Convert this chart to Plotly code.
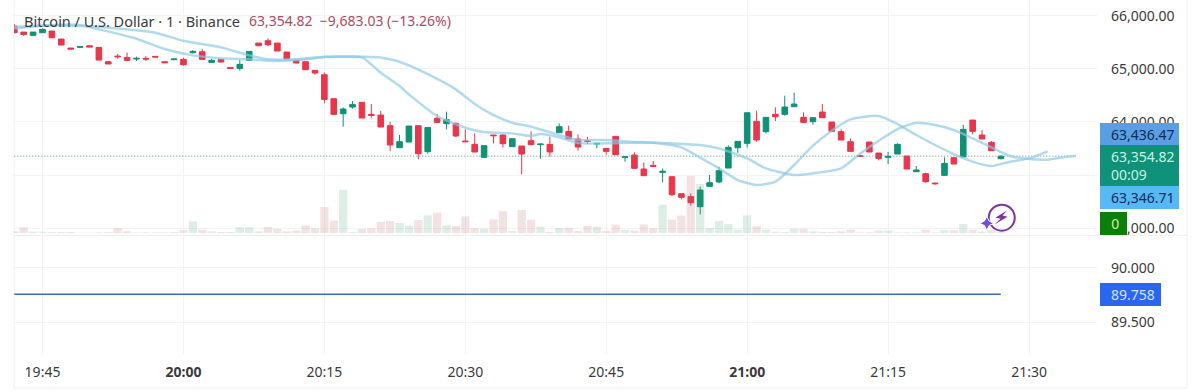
import pandas as pd
import plotly.graph_objects as go

opens = [65805,65692,65630,65680,65711,65561,65391,65404,65435,65404,65134,65240,65215,65184,65197,65234,65134,65171,65178,65303,
65322,65121,65178,65027,65008,65159,65485,65529,65485,65316,65159,65134,64971,64889,64437,64155,64280,64368,64142,64129,
63929,63514,63621,63929,63439,64067,63966,63973,63640,63577,63332,63753,63753,63533,63546,63646,63571,63577,63797,63822,
63678,63646,63583,63502,63728,63332,63376,63113,63182,63050,62968,62648,62592,62403,62786,62868,63131,63514,63596,64010,
63816,64142,64142,64286,64086,64004,64186,63998,63816,63627,63364,63621,63414,63332,63395,63357,63062,63025,62849,62993,
63326,63339,64035,63753,63615,63307]
highs = [65843,65692,65692,65761,65711,65561,65391,65416,65435,65404,65134,65278,65303,65228,65240,65234,65134,65184,65209,65353,
65372,65190,65178,65027,65165,65328,65485,65573,65485,65316,65159,65134,64971,64933,64437,64274,64393,64368,64337,64205,
64004,63753,63922,63929,63897,64148,64192,63991,63859,63784,63552,63753,63765,63684,63546,63822,63583,63721,63973,63929,
63765,63721,63596,63502,63728,63345,63426,63238,63263,63125,62968,62648,62654,62780,63000,63157,63558,63634,64173,64211,
64086,64274,64494,64550,64180,64079,64337,63998,63859,63690,63364,63621,63414,63433,63596,63357,63169,63044,62849,63332,
63326,63947,64035,63847,63640,63370]
lows = [65680,65617,65630,65680,65586,65448,65372,65404,65410,65165,65090,65190,65159,65146,65146,65222,65115,65171,65058,65291,
65178,65121,65127,65008,64964,65159,65435,65429,65335,65184,65109,64983,64889,64349,64142,63910,64249,64073,64079,63903,
63452,63514,63621,63295,63401,63991,63859,63715,63627,63433,63332,63596,63521,63533,63012,63571,63307,63345,63797,63678,
63458,63583,63502,63382,63382,63251,63125,62987,63163,62861,62604,62541,62422,62259,62786,62843,63131,63420,63514,63627,
63784,64016,64117,64286,63991,63947,64079,63822,63659,63445,63351,63433,63276,63207,63395,63113,63062,62855,62818,62993,
63207,63339,63765,63678,63458,63295]
closes = [65680,65648,65692,65743,65586,65448,65372,65416,65410,65165,65090,65228,65159,65197,65184,65222,65115,65184,65077,65328,
65178,65159,65127,65008,65084,65328,65435,65454,65335,65184,65109,64983,64920,64424,64142,64242,64330,64073,64123,63903,
63565,63627,63922,63401,63897,63991,64042,63734,63627,63433,63552,63740,63590,63684,63395,63571,63583,63433,63910,63678,
63527,63634,63596,63445,63382,63345,63125,62987,63163,63069,62629,62579,62479,62717,62855,63081,63521,63634,64173,63659,
64086,64098,64280,64337,63991,64079,64079,63822,63659,63445,63351,63433,63313,63351,63577,63113,63094,62874,62836,63219,
63207,63859,63822,63678,63458,63354.82]
volumes = [5,17,4,4,3,3,3,1,1,2,3,15,5,2,2,2,2,3,8,35,10,5,3,3,17,17,5,18,12,5,7,23,14,78,37,129,3,12,14,33,
36,30,22,39,53,61,23,21,50,15,13,41,66,6,69,40,19,3,15,16,6,21,19,6,25,9,7,26,14,85,40,52,171,147,16,36,27,10,53,20,
10,4,3,13,13,5,3,3,5,10,2,2,7,7,2,2,2,10,2,8,8,27,10,4,8,4]

ma_a_idx = [0,4,7,9,13,16,19,22,25,28,31,33,35,37,39,41,42,45,48,50,53,55,56,58,60,63,68,71,73,75,77,79,81,83,85,87,89,92,94,96,98,100,102,104,106,108,110]
ma_a = [65761,65824,65824,65743,65567,65372,65253,65197,65178,65146,65178,65222,65228,65215,64927,64676,64519,64111,63891,63809,63784,63734,63772,63709,63602,63596,63608,63521,63326,63125,62905,62811,62874,63188,63552,63834,64048,64111,63960,63753,63565,63395,63251,63169,63251,63313,63445]
ma_b_idx = [0,4,7,11,15,18,22,25,27,30,33,37,39,41,44,47,49,51,53,55,58,60,63,66,70,73,75,78,80,83,85,88,90,92,94,96,98,100,102,104,106,108,110,112,113]
ma_b = [65793,65818,65805,65761,65680,65529,65404,65253,65178,65178,65228,65228,65215,65134,64902,64613,64337,64129,63985,63910,63753,63659,63659,63621,63596,63565,63502,63313,63125,62999,63031,63125,63401,63646,63866,63985,63941,63847,63690,63521,63357,63301,63288,63345,63357]

ratio_value = 89.758
last_price = 63354.82
time_ticks = ["19:45", "20:00", "20:15", "20:30", "20:45", "21:00", "21:15", "21:30"]
price_ticks = [66000, 65000, 64000, 63000, 62000]
hidden_price_ticks = [63000]
lower_ticks = [90.0, 89.5]

DAY = "2024-06-18"
PX_L, PX_R, PX_B = 13.5, 1097.0, 354.0
W, H = 1200, 392
times = pd.date_range(f"{DAY} 19:42", periods=120, freq="1min")
t = times[:len(opens)]
RED, GREEN = "#e8364a", "#0f9174"
LINE = "rgba(140,200,232,0.68)"
FONT = "Noto Sans"
GRID = "#f3f3f4"

def px(x):
    return (x - PX_L) / (PX_R - PX_L)

def py(y):
    return 1 - y / PX_B

def path(points):
    return "M " + " L ".join(f"{px(x):.5f},{py(y):.5f}" for x, y in points) + " Z"

fig = go.Figure()
vol_colors = ["rgba(60,160,115,0.18)" if c >= o else "rgba(190,95,95,0.18)" for o, c in zip(opens, closes)]
fig.add_trace(go.Bar(x=t, y=volumes, marker_color=vol_colors, marker_line_width=0, yaxis="y3", xaxis="x", showlegend=False))
fig.add_trace(go.Scatter(x=[times[0], times[113]], y=[last_price, last_price], mode="lines",
                         line=dict(color="#4f9486", width=1, dash="1px,2px"), showlegend=False))
fig.add_trace(go.Candlestick(x=t, open=opens, high=highs, low=lows, close=closes,
                             increasing=dict(line=dict(color=GREEN, width=1), fillcolor=GREEN),
                             decreasing=dict(line=dict(color=RED, width=1), fillcolor=RED),
                             whiskerwidth=0, showlegend=False))
fig.add_trace(go.Scatter(x=times[ma_a_idx], y=ma_a, mode="lines", line=dict(color=LINE, width=2.5, shape="spline", smoothing=0.6), showlegend=False))
fig.add_trace(go.Scatter(x=times[ma_b_idx], y=ma_b, mode="lines", line=dict(color=LINE, width=2.5, shape="spline", smoothing=0.6), showlegend=False))
fig.add_trace(go.Scatter(x=[t[0], t[-1]], y=[ratio_value, ratio_value], mode="lines",
                         line=dict(color="#3f6db3", width=1.5), xaxis="x2", yaxis="y2", showlegend=False))

tickdates = [f"{DAY} {s}" for s in time_ticks]
ticktext = [f"<b>{s}</b>" if s in ("20:00", "21:00") else s for s in time_ticks]
xrange_ = [f"{DAY} 19:41:58", f"{DAY} 21:37:14"]
axfont = dict(family=FONT, size=14, color="#3a3a3a")

fig.update_layout(
    width=W, height=H, paper_bgcolor="white", plot_bgcolor="white",
    margin=dict(l=PX_L, r=W - PX_R, t=0, b=H - PX_B, autoexpand=False),
    boxgap=0.15, bargap=0.12, hovermode=False, showlegend=False,
    xaxis=dict(domain=[0, 1], range=xrange_, anchor="y", tickvals=tickdates, showticklabels=False,
               showgrid=True, gridcolor=GRID, gridwidth=1, zeroline=False, showline=False, rangeslider=dict(visible=False)),
    xaxis2=dict(domain=[0, 1], range=xrange_, anchor="y2", tickvals=tickdates, ticktext=ticktext, ticks="", ticklen=0,
                tickfont=axfont, ticklabelstandoff=8, showgrid=True, gridcolor=GRID, zeroline=False, showline=False, matches="x"),
    yaxis=dict(domain=[1 - 235 / PX_B, 1], range=[61870, 66296], side="right", anchor="x",
               tickvals=price_ticks, ticktext=["" if v in hidden_price_ticks else f"{v:,.2f}" for v in price_ticks],
               tickfont=axfont, ticks="", ticklabelstandoff=13,
               showgrid=True, gridcolor=GRID, zeroline=False, showline=False),
    yaxis3=dict(domain=[1 - 235 / PX_B, 1], range=[-6, 699], overlaying="y", anchor="x", visible=False),
    yaxis2=dict(domain=[0, 1 - 236 / PX_B], range=[89.204, 90.296], side="right", anchor="x2",
                tickvals=lower_ticks, ticktext=[f"{v:.3f}" for v in lower_ticks], tickfont=axfont, ticks="", ticklabelstandoff=13,
                showgrid=True, gridcolor=GRID, zeroline=False, showline=False),
)

PAD = "&nbsp;&nbsp;&nbsp;"

def badge(text, x0, x1, y0, y1, bg, fg, align="left"):
    fig.add_annotation(xref="paper", yref="paper", x=px(x0), y=py(y0), xanchor="left", yanchor="top",
                       width=x1 - x0, height=y1 - y0, text=text, showarrow=False, bgcolor=bg, borderpad=0, borderwidth=0,
                       align=align, valign="middle", font=dict(family=FONT, size=14, color=fg))

badge(PAD + "63,436.47", 1100, 1179, 122.5, 145, "#5a9fe3", "#0d2b57")
badge(PAD + "63,354.82<br>" + PAD + "00:09", 1100, 1179, 145, 186, "#10917a", "#c4f5e2")
badge(PAD + "63,346.71", 1100, 1179, 186, 209, "#56b9f6", "#0d2b57")
badge("&nbsp;0", 1100, 1127, 212, 235, "#0a7f0a", "#d3f5a8", align="center")
badge(PAD + "89.758", 1100, 1161, 283, 306, "#2b66f0", "#d5e4ff")

fig.add_annotation(xref="paper", yref="paper", x=px(22), y=py(21), xanchor="left", yanchor="middle", showarrow=False,
                   text="Bitcoin / U.S. Dollar · 1 · Binance", font=dict(family=FONT, size=14.5, color="#3a3a3a"))
fig.add_annotation(xref="paper", yref="paper", x=px(246.5), y=py(21), xanchor="left", yanchor="middle", showarrow=False,
                   text="63,354.82  −9,683.03 (−13.26%)", font=dict(family=FONT, size=14, color="#ad4a5d"))

shapes = []
EDGE = "#f0f0f1"
for x0, y0, x1, y1 in [(1187, 0, 1187, 388), (PX_L, 235.5, 1187, 235.5), (PX_L, 388, 1187, 388), (PX_L, 0, PX_L, 388)]:
    shapes.append(dict(type="line", xref="paper", yref="paper", x0=px(x0), x1=px(x1), y0=py(y0), y1=py(y1),
                       line=dict(color=EDGE, width=1), layer="below"))
shapes.append(dict(type="circle", xref="paper", yref="paper", x0=px(988.7), x1=px(1014.7), y0=py(230.7), y1=py(204.7),
                   line=dict(color="#7b35a8", width=2), fillcolor="rgba(0,0,0,0)", layer="above"))
bolt = [(1007, 210.5), (995.5, 217.5), (1000.5, 218.8), (994.5, 224.5), (1007.5, 216.8), (1002.5, 215.5)]
shapes.append(dict(type="path", xref="paper", yref="paper", path=path(bolt), fillcolor="#7b35a8", line=dict(width=0), layer="above"))
sx, sy, r, q = 986.7, 223.3, 7, 2.3
star = [(sx, sy - r), (sx + q, sy - q), (sx + r, sy), (sx + q, sy + q), (sx, sy + r), (sx - q, sy + q), (sx - r, sy), (sx - q, sy - q)]
shapes.append(dict(type="path", xref="paper", yref="paper", path=path(star), fillcolor="#6a4ee6",
                   line=dict(color="white", width=1), layer="above"))
fig.update_layout(shapes=shapes)

fig.write_html("out.html", config=dict(displayModeBar=False), post_script="document.body.style.margin='0';")
